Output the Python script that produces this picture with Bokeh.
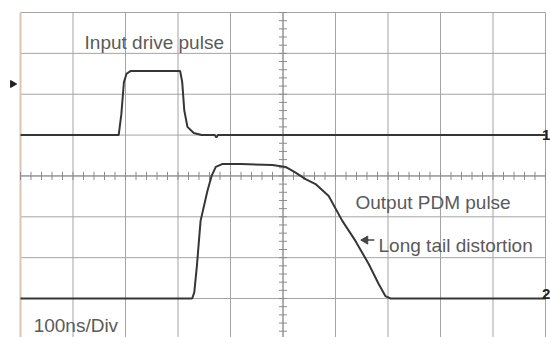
from bokeh.plotting import figure
from bokeh.models import Label, Range1d
from bokeh.embed import file_html
from bokeh.resources import INLINE
import numpy as np

# Time axis in divisions (100 ns/div), vertical axis in divisions (centre = 0)
ch1_t = [0.0, 1.87, 1.92, 1.97, 2.02, 2.10, 3.04, 3.08, 3.12, 3.18, 3.30, 3.45, 3.70, 3.73, 3.76, 10.0]
ch1_v = [1.0, 1.0, 1.5, 2.3, 2.5, 2.57, 2.57, 2.3, 1.6, 1.2, 1.05, 1.0, 1.0, 0.94, 1.0, 1.0]

ch2_t = [0.0, 3.27, 3.31, 3.36, 3.43, 3.56, 3.64, 3.72, 3.84, 4.20, 4.80, 5.05, 5.24, 5.43,
         5.62, 5.87, 6.13, 6.38, 6.63, 6.82, 6.95, 7.05, 10.0]
ch2_v = [-3.0, -3.0, -2.85, -2.2, -1.1, -0.37, 0.0, 0.22, 0.29, 0.29, 0.27, 0.22, 0.08, -0.08,
         -0.2, -0.49, -1.1, -1.59, -2.15, -2.64, -2.94, -3.0, -3.0]

x_divs = list(range(0, 11))
y_divs = list(range(-4, 5))

TRACE = "#363636"
GRID = "#a4a4a4"
TEXT = "#5a5a5a"

PX_X = 52.5    # pixels per horizontal division
PX_Y = 40.86   # pixels per vertical division

# the frame spans the whole canvas; the graticule sits inside it
p = figure(width=550, height=337, output_backend="svg", toolbar_location=None,
           x_range=Range1d(-20 / PX_X, 530 / PX_X),
           y_range=Range1d(4 - 325 / PX_Y, 4 + 12 / PX_Y),
           min_border=0, background_fill_color="white", border_fill_color="white")
p.xaxis.visible = False
p.yaxis.visible = False
p.grid.visible = False
p.outline_line_color = None

# graticule
gx = [x for x in x_divs if x != 0]
p.segment(x0=gx, y0=-4, x1=gx, y1=4, line_color=GRID, line_width=1)
p.segment(x0=0, y0=y_divs, x1=10, y1=y_divs, line_color=GRID, line_width=1)
p.segment(x0=[0], y0=[-4.2], x1=[0], y1=[4], line_color="#dcc6b0", line_width=2)

# centre lines with minor ticks every 1/5 division
p.segment(x0=[0, 5], y0=[0, -4], x1=[10, 5], y1=[0, 4], line_color="#8c8c8c", line_width=1)
mx = np.arange(0, 10.001, 0.2)
p.segment(x0=mx, y0=-0.1, x1=mx, y1=0.1, line_color="#8c8c8c", line_width=1)
my = np.arange(-4, 4.001, 0.2)
p.segment(x0=5 - 0.076, y0=my, x1=5 + 0.076, y1=my, line_color="#8c8c8c", line_width=1)

# channel traces
p.line(ch1_t, ch1_v, line_color=TRACE, line_width=2)
p.line(ch2_t, ch2_v, line_color=TRACE, line_width=2)

def note(x, y, text, size="19px", color=TEXT, style="normal", align="left", base="alphabetic"):
    p.add_layout(Label(x=x, y=y, text=text, text_font="Liberation Sans", text_font_size=size,
                       text_color=color, text_font_style=style, text_align=align,
                       text_baseline=base))

note(1.22, 3.255, "Input drive pulse")
note(6.38, -0.66, "Output PDM pulse")
note(6.82, -1.71, "Long tail distortion")
note(0.25, -3.67, "100ns/Div")

# arrow pointing at the trailing edge
p.segment(x0=6.55, y0=-1.57, x1=6.74, y1=-1.57, line_color="#444444", line_width=1.5)
p.scatter(x=[6.57], y=[-1.57], marker="triangle", angle=np.pi / 2, size=8,
          fill_color="#444444", line_color="#444444")

# channel markers at the graticule edges
note(10.09, 1.0, "1", size="15px", color="#222222", style="bold", align="right")
note(10.09, -2.88, "2", size="15px", color="#222222", style="bold", align="right")
p.scatter(x=[-0.15], y=[2.25], marker="triangle", angle=-np.pi / 2, size=7,
          fill_color="#222222", line_color="#222222")

open("out.html", "w").write(file_html(p, INLINE))
